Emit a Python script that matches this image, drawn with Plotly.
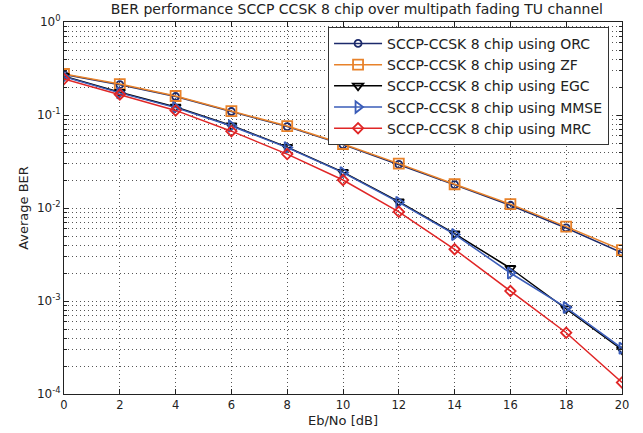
import plotly.graph_objects as go

ebno = [0, 2, 4, 6, 8, 10, 12, 14, 16, 18, 20]
ber_orc = [0.272, 0.212, 0.158, 0.109, 0.075, 0.048, 0.0295, 0.0178, 0.0107, 0.0061, 0.0033]
ber_zf = [0.276, 0.215, 0.160, 0.110, 0.076, 0.0488, 0.030, 0.018, 0.011, 0.0063, 0.00353]
ber_egc = [0.262, 0.176, 0.122, 0.077, 0.0452, 0.0243, 0.0117, 0.0053, 0.00225, 0.00083, 0.00030]
ber_mmse = [0.258, 0.173, 0.120, 0.076, 0.0446, 0.0240, 0.0115, 0.0052, 0.0020, 0.00085, 0.00031]
ber_mrc = [0.244, 0.166, 0.112, 0.067, 0.038, 0.020, 0.0091, 0.0036, 0.00128, 0.000456, 0.000133]

y_tickvals = [1e-4, 1e-3, 1e-2, 1e-1, 1]
y_ticktext = ["10<sup>-4</sup>", "10<sup>-3</sup>", "10<sup>-2</sup>", "10<sup>-1</sup>", "10<sup>0</sup>"]

names = ["SCCP-CCSK 8 chip using ORC", "SCCP-CCSK 8 chip using ZF",
         "SCCP-CCSK 8 chip using EGC", "SCCP-CCSK 8 chip using MMSE",
         "SCCP-CCSK 8 chip using MRC"]
series = [ber_orc, ber_zf, ber_egc, ber_mmse, ber_mrc]
colors = ["#1c2a6b", "#e8822a", "#000000", "#3a5cb8", "#e02626"]
symbols = ["circle-open", "square-open", "triangle-down-open", "triangle-right-open", "diamond-open"]
sizes = [7, 10, 9, 10, 8]

fig = go.Figure()
for n, s, c, sym, sz in zip(names, series, colors, symbols, sizes):
    fig.add_trace(go.Scatter(
        x=ebno, y=s, name=n, mode="lines+markers",
        line=dict(color=c, width=1.5),
        marker=dict(symbol=sym, size=sz, color=c, line=dict(color=c, width=1.8)),
    ))

grid = "#555555"
FONT = "DejaVu Sans, Liberation Sans, Arial"
fig.update_layout(
    width=643, height=433,
    margin=dict(l=64, r=21, t=22, b=39),
    paper_bgcolor="white", plot_bgcolor="white",
    font=dict(family=FONT, size=12, color="#222"),
    title=dict(text="BER performance SCCP CCSK 8 chip over multipath fading TU channel",
               x=0.555, xanchor="center", xref="container",
               y=1 - 9 / 433, yanchor="middle", yref="container",
               font=dict(family=FONT, size=14, color="#222")),
    legend=dict(x=0.725, y=0.987, xanchor="center", yanchor="top",
                bgcolor="white", bordercolor="#333", borderwidth=1,
                font=dict(family=FONT, size=14, color="#222"), tracegroupgap=0,
                itemwidth=48),
    showlegend=True,
    annotations=[dict(text="Eb/No [dB]", xref="paper", yref="paper",
                      x=0.5, y=-(420 - 394) / 372, xanchor="center", yanchor="middle",
                      showarrow=False, font=dict(family=FONT, size=13, color="#222"))],
)
fig.update_xaxes(
    range=[0, 20], tickmode="array", tickvals=ebno, ticktext=[str(v) for v in ebno],
    ticks="inside", ticklen=5, tickcolor="#222", mirror="ticks",
    showline=True, linecolor="#222", linewidth=1,
    showgrid=True, gridcolor=grid, griddash="1px,3px", gridwidth=1,
    zeroline=False, tickfont=dict(size=11.5),
)
fig.update_yaxes(
    type="log", range=[-4, 0], tickmode="array", tickvals=y_tickvals, ticktext=y_ticktext,
    ticks="inside", ticklen=5, tickcolor="#222", mirror="ticks",
    showline=True, linecolor="#222", linewidth=1,
    showgrid=True, gridcolor=grid, griddash="1px,3px", gridwidth=1,
    minor=dict(dtick="D1", showgrid=True, gridcolor=grid, griddash="1px,3px",
               ticks="inside", ticklen=3, tickcolor="#222"),
    zeroline=False,
    title=dict(text="Average BER", font=dict(family=FONT, size=13), standoff=5),
)
fig.write_html("out.html", config={"displayModeBar": False},
               post_script="document.body.style.margin='0';")
